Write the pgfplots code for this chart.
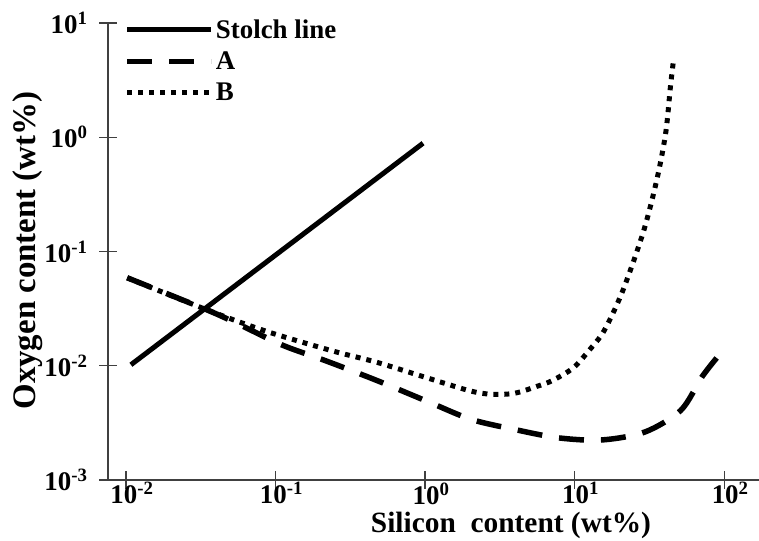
\documentclass[border=0pt]{standalone}
\usepackage{fontspec}
\setmainfont{Liberation Serif}
\usepackage{pgfplots}
\pgfplotsset{compat=1.18}
\begin{document}
\begin{tikzpicture}
\begin{axis}[
  scale only axis,
  width=651bp, height=457bp,
  xmode=log, ymode=log,
  xmin=0.00759, xmax=171,
  ymin=0.001, ymax=10,
  axis x line*=bottom, axis y line*=left,
  axis line style={-, line width=1.3bp, black!75},
  xminorticks=false, yminorticks=false,
  xtick={0.01,0.1,1,10,100},
  xticklabels={10\textsuperscript{-2},10\textsuperscript{-1},10\textsuperscript{0},10\textsuperscript{1},10\textsuperscript{2}},
  ytick={0.001,0.01,0.1,1,10},
  yticklabels={10\textsuperscript{-3},10\textsuperscript{-2},10\textsuperscript{-1},10\textsuperscript{0},10\textsuperscript{1}},
  tick align=center,
  major tick length=18bp,
  tick style={line width=1.3bp, black!75},
  ticklabel style={font=\fontsize{27}{30}\selectfont\bfseries},
  xticklabel style={xshift=6bp, yshift=10bp},
  yticklabel style={xshift=-8bp},
  xlabel={Silicon\ \ content (wt\%)},
  ylabel={Oxygen content (wt\%)},
  xlabel style={at={(rel axis cs:0.619,0)}, anchor=base, yshift=-52bp, font=\fontsize{29.5}{32}\selectfont\bfseries},
  ylabel style={at={(rel axis cs:0,0.502)}, anchor=center, yshift=80bp, font=\fontsize{33}{35}\selectfont\bfseries},
  legend style={at={(rel axis cs:0.025,1.012)}, anchor=north west, draw=none, fill=none,
    font=\fontsize{27}{29}\selectfont\bfseries, row sep=8bp, inner sep=0pt},
  legend cell align=left,
  legend image code/.code={\draw[#1] (0bp,0bp) -- (67bp,0bp); \path (0bp,0bp) -- (84bp,0bp);},
]
\addplot[line width=5bp, black] coordinates {(0.0108,0.0102) (0.97,0.887)};
\addlegendentry{Stolch line}
\addplot[line width=5.5bp, black, dash pattern=on 25bp off 17bp, smooth] coordinates {
(0.0102,0.0589) (0.0347,0.0309) (0.0575,0.0229) (0.112,0.0151) (0.219,0.0110)
(0.479,0.00741) (1.07,0.00479) (2.04,0.00339) (4.07,0.00275) (7.76,0.00234)
(15.1,0.00224) (29.5,0.00263) (51.3,0.00407) (70.8,0.00794) (89.1,0.0117)};
\addlegendentry{A}
\addplot[line width=5bp, black, dash pattern=on 5bp off 6bp, smooth] coordinates {
(0.0102,0.0589) (0.0347,0.0309) (0.0871,0.0200) (0.240,0.0135) (0.479,0.0107)
(1.00,0.00794) (2.00,0.00603) (2.82,0.00562) (3.98,0.00575) (5.62,0.00661)
(7.08,0.00741) (9.77,0.00955) (12.6,0.0138) (15.8,0.0204) (20.9,0.0447)
(28.8,0.148) (35.5,0.427) (40.7,1.10) (43.7,2.75) (45.7,4.57)};
\addlegendentry{B}
\end{axis}
\pgfresetboundingbox
\useasboundingbox (-108bp,-61bp) rectangle (651bp,480bp);
\end{tikzpicture}
\end{document}
